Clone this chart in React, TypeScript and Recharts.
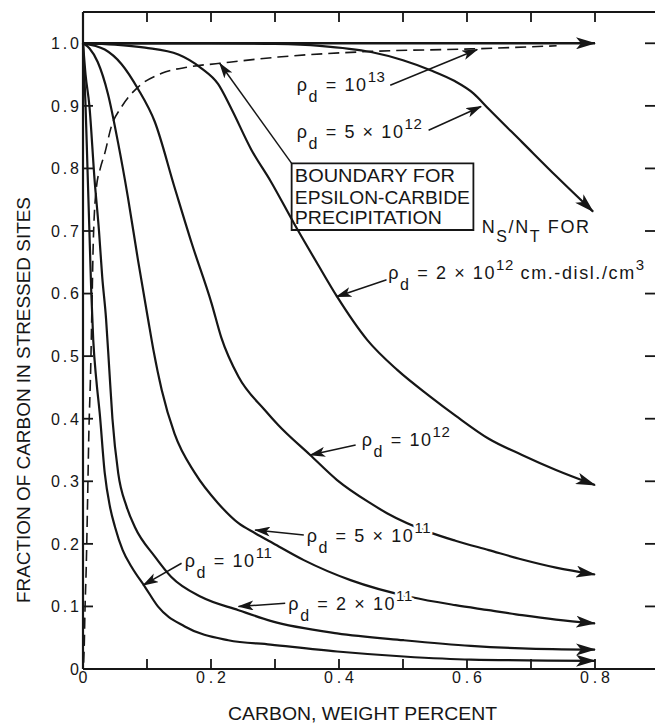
import React from 'react';
import { LineChart, Line, XAxis, YAxis, ReferenceArea, ReferenceDot } from 'recharts';

type Pt = { x: number; y: number };
type Part = { t: string; k?: 'sub' | 'sup' | 'low' };

// ---- axes ----
const xTicks = [0, 0.1, 0.2, 0.3, 0.4, 0.5, 0.6, 0.7, 0.8];
const xTickLabels = ['0', '', '0.2', '', '0.4', '', '0.6', '', '0.8'];
const yTicks = [0, 0.1, 0.2, 0.3, 0.4, 0.5, 0.6, 0.7, 0.8, 0.9, 1.0];
const yTickLabels = ['0', '0.1', '0.2', '0.3', '0.4', '0.5', '0.6', '0.7', '0.8', '0.9', '1.0'];
const xTitle = 'CARBON, WEIGHT PERCENT';
const yTitle = 'FRACTION OF CARBON IN STRESSED SITES';

// ---- curves N_S/N_T vs carbon for each dislocation density ----
const curve1e13: Pt[] = [
  { x: 0, y: 1.0 }, { x: 0.8, y: 1.0 },
];
const curve5e12: Pt[] = [
  { x: 0, y: 1.0 }, { x: 0.2, y: 1.0 }, { x: 0.3, y: 0.999 }, { x: 0.37, y: 0.996 },
  { x: 0.45, y: 0.986 }, { x: 0.5, y: 0.973 }, { x: 0.543, y: 0.957 }, { x: 0.58, y: 0.94 },
  { x: 0.61, y: 0.92 }, { x: 0.634, y: 0.895 }, { x: 0.686, y: 0.842 }, { x: 0.74, y: 0.787 },
  { x: 0.797, y: 0.731 },
];
const curve2e12: Pt[] = [
  { x: 0, y: 1.0 }, { x: 0.05, y: 0.998 }, { x: 0.097, y: 0.993 }, { x: 0.149, y: 0.982 },
  { x: 0.185, y: 0.96 }, { x: 0.211, y: 0.935 }, { x: 0.232, y: 0.895 }, { x: 0.263, y: 0.83 },
  { x: 0.293, y: 0.78 }, { x: 0.332, y: 0.708 }, { x: 0.365, y: 0.65 }, { x: 0.397, y: 0.595 },
  { x: 0.444, y: 0.526 }, { x: 0.491, y: 0.478 }, { x: 0.543, y: 0.435 }, { x: 0.582, y: 0.405 },
  { x: 0.634, y: 0.368 }, { x: 0.686, y: 0.342 }, { x: 0.739, y: 0.318 }, { x: 0.8, y: 0.294 },
];
const curve1e12: Pt[] = [
  { x: 0, y: 1.0 }, { x: 0.034, y: 0.99 }, { x: 0.06, y: 0.967 }, { x: 0.086, y: 0.927 },
  { x: 0.112, y: 0.875 }, { x: 0.143, y: 0.77 }, { x: 0.17, y: 0.68 }, { x: 0.201, y: 0.584 },
  { x: 0.216, y: 0.53 }, { x: 0.243, y: 0.467 }, { x: 0.284, y: 0.414 }, { x: 0.305, y: 0.39 },
  { x: 0.355, y: 0.342 }, { x: 0.397, y: 0.302 }, { x: 0.449, y: 0.265 }, { x: 0.475, y: 0.249 },
  { x: 0.543, y: 0.218 }, { x: 0.582, y: 0.205 }, { x: 0.634, y: 0.19 }, { x: 0.686, y: 0.175 },
  { x: 0.739, y: 0.162 }, { x: 0.8, y: 0.151 },
];
const curve5e11: Pt[] = [
  { x: 0, y: 1.0 }, { x: 0.01, y: 0.992 }, { x: 0.023, y: 0.97 }, { x: 0.039, y: 0.919 },
  { x: 0.055, y: 0.84 }, { x: 0.07, y: 0.755 }, { x: 0.086, y: 0.653 }, { x: 0.102, y: 0.557 },
  { x: 0.11, y: 0.51 }, { x: 0.123, y: 0.446 }, { x: 0.143, y: 0.376 }, { x: 0.175, y: 0.313 },
  { x: 0.211, y: 0.265 }, { x: 0.243, y: 0.233 }, { x: 0.269, y: 0.217 }, { x: 0.297, y: 0.201 },
  { x: 0.345, y: 0.174 }, { x: 0.418, y: 0.142 }, { x: 0.512, y: 0.115 }, { x: 0.582, y: 0.102 },
  { x: 0.634, y: 0.094 }, { x: 0.686, y: 0.086 }, { x: 0.739, y: 0.079 }, { x: 0.8, y: 0.073 },
];
const curve2e11: Pt[] = [
  { x: 0, y: 1.0 }, { x: 0.004, y: 0.95 }, { x: 0.01, y: 0.9 }, { x: 0.018, y: 0.783 },
  { x: 0.025, y: 0.7 }, { x: 0.03, y: 0.627 }, { x: 0.036, y: 0.56 }, { x: 0.041, y: 0.48 },
  { x: 0.046, y: 0.4 }, { x: 0.055, y: 0.313 }, { x: 0.068, y: 0.26 }, { x: 0.081, y: 0.227 },
  { x: 0.112, y: 0.18 }, { x: 0.138, y: 0.147 }, { x: 0.185, y: 0.115 }, { x: 0.243, y: 0.094 },
  { x: 0.293, y: 0.077 }, { x: 0.397, y: 0.057 }, { x: 0.501, y: 0.046 }, { x: 0.606, y: 0.037 },
  { x: 0.686, y: 0.033 }, { x: 0.8, y: 0.031 },
];
const curve1e11: Pt[] = [
  { x: 0, y: 1.0 }, { x: 0.002, y: 0.95 }, { x: 0.004, y: 0.9 }, { x: 0.007, y: 0.8 },
  { x: 0.01, y: 0.7 }, { x: 0.013, y: 0.6 }, { x: 0.016, y: 0.526 }, { x: 0.021, y: 0.46 },
  { x: 0.026, y: 0.41 }, { x: 0.034, y: 0.313 }, { x: 0.042, y: 0.26 }, { x: 0.05, y: 0.227 },
  { x: 0.062, y: 0.19 }, { x: 0.076, y: 0.163 }, { x: 0.097, y: 0.131 }, { x: 0.117, y: 0.1 },
  { x: 0.159, y: 0.068 }, { x: 0.227, y: 0.046 }, { x: 0.293, y: 0.039 }, { x: 0.397, y: 0.028 },
  { x: 0.501, y: 0.02 }, { x: 0.606, y: 0.015 }, { x: 0.8, y: 0.013 },
];
// boundary for epsilon-carbide precipitation (dashed)
const boundary: Pt[] = [
  { x: 0.001, y: 0.01 }, { x: 0.002, y: 0.04 }, { x: 0.003, y: 0.09 }, { x: 0.005, y: 0.16 },
  { x: 0.007, y: 0.26 }, { x: 0.009, y: 0.37 }, { x: 0.012, y: 0.48 }, { x: 0.014, y: 0.58 },
  { x: 0.016, y: 0.68 }, { x: 0.021, y: 0.77 }, { x: 0.027, y: 0.8 }, { x: 0.034, y: 0.824 },
  { x: 0.044, y: 0.866 }, { x: 0.06, y: 0.898 }, { x: 0.086, y: 0.93 }, { x: 0.123, y: 0.952 },
  { x: 0.164, y: 0.962 }, { x: 0.214, y: 0.968 }, { x: 0.305, y: 0.978 }, { x: 0.45, y: 0.987 },
  { x: 0.606, y: 0.991 }, { x: 0.74, y: 0.996 },
];

// ---- annotation leader arrows (start -> tip, data units) ----
const arrow1e13: Pt[] = [{ x: 0.48, y: 0.933 }, { x: 0.616, y: 0.99 }];
const arrow5e12: Pt[] = [{ x: 0.54, y: 0.861 }, { x: 0.622, y: 0.899 }];
const arrowBoundary: Pt[] = [{ x: 0.326, y: 0.808 }, { x: 0.2136, y: 0.968 }];
const arrow2e12: Pt[] = [{ x: 0.4745, y: 0.622 }, { x: 0.396, y: 0.595 }];
const arrow1e12: Pt[] = [{ x: 0.426, y: 0.358 }, { x: 0.355, y: 0.342 }];
const arrow5e11: Pt[] = [{ x: 0.345, y: 0.214 }, { x: 0.269, y: 0.222 }];
const arrow2e11: Pt[] = [{ x: 0.316, y: 0.105 }, { x: 0.243, y: 0.1 }];
const arrow1e11: Pt[] = [{ x: 0.154, y: 0.169 }, { x: 0.094, y: 0.134 }];

// ---- annotation texts ----
const RHO = '\u03C1';
const labels: { x: number; y: number; parts: Part[] }[] = [
  { x: 0.334, y: 0.923, parts: [{ t: RHO }, { t: 'd', k: 'sub' }, { t: ' = 10' }, { t: '13', k: 'sup' }] },
  { x: 0.334, y: 0.848, parts: [{ t: RHO }, { t: 'd', k: 'sub' }, { t: ' = 5 \u00D7 10' }, { t: '12', k: 'sup' }] },
  { x: 0.477, y: 0.624, parts: [{ t: RHO }, { t: 'd', k: 'sub' }, { t: ' = 2 \u00D7 10' }, { t: '12', k: 'sup' }, { t: ' cm.-disl./cm' }, { t: '3', k: 'sup' }] },
  { x: 0.623, y: 0.697, parts: [{ t: 'N' }, { t: 'S', k: 'low' }, { t: '/N' }, { t: 'T', k: 'low' }, { t: ' FOR' }] },
  { x: 0.4355, y: 0.356, parts: [{ t: RHO }, { t: 'd', k: 'sub' }, { t: ' = 10' }, { t: '12', k: 'sup' }] },
  { x: 0.3495, y: 0.2035, parts: [{ t: RHO }, { t: 'd', k: 'sub' }, { t: ' = 5 \u00D7 10' }, { t: '11', k: 'sup' }] },
  { x: 0.3208, y: 0.0943, parts: [{ t: RHO }, { t: 'd', k: 'sub' }, { t: ' = 2 \u00D7 10' }, { t: '11', k: 'sup' }] },
  { x: 0.159, y: 0.163, parts: [{ t: RHO }, { t: 'd', k: 'sub' }, { t: ' = 10' }, { t: '11', k: 'sup' }] },
];
const boxArea = { x1: 0.326, x2: 0.61, y1: 0.7016, y2: 0.808 };
const boxLines = [
  { text: 'BOUNDARY FOR', x: 0.331, y: 0.778, len: 160 },
  { text: 'EPSILON-CARBIDE', x: 0.331, y: 0.743, len: 175 },
  { text: 'PRECIPITATION', x: 0.331, y: 0.711, len: 147 },
];

const FONT = '"Liberation Sans", Arial, sans-serif';
const INK = '#161616';

const RichText = ({ x, y, parts }: { x: number; y: number; parts: Part[] }) => {
  let cur = 0;
  return (
    <text
      x={x}
      y={y}
      fontFamily={FONT}
      fontSize={18}
      fill={INK}
      letterSpacing={1.6}
      stroke="#fff"
      strokeWidth={5}
      strokeLinejoin="round"
      paintOrder="stroke"
      style={{ whiteSpace: 'pre' }}
    >
      {parts.map((p, i) => {
        const target = p.k === 'sub' ? 11 : p.k === 'sup' ? -9 : p.k === 'low' ? 9 : 0;
        const dy = target - cur;
        cur = target;
        const fs = p.k === 'sup' ? 15 : p.k ? 16 : 18;
        return (
          <tspan key={i} dy={dy} fontSize={fs} letterSpacing={p.k === 'sup' ? 0.6 : 1.6}>
            {p.t}
          </tspan>
        );
      })}
    </text>
  );
};

const XTick = (props: any) => {
  const { x, y, index } = props;
  const label = xTickLabels[index];
  if (!label) return <g />;
  return (
    <text
      x={x}
      y={y + 14}
      textAnchor="middle"
      fontFamily={FONT}
      fontSize={16}
      fill={INK}
      textLength={label.length > 1 ? 30 : undefined}
      lengthAdjust="spacing"
    >
      {label}
    </text>
  );
};

const YTick = (props: any) => {
  const { x, y, index } = props;
  const label = yTickLabels[index];
  return (
    <text
      x={x - 4}
      y={y + 5.8}
      textAnchor="end"
      fontFamily={FONT}
      fontSize={16}
      fill={INK}
      textLength={label.length > 1 ? 28 : undefined}
      lengthAdjust="spacing"
    >
      {label}
    </text>
  );
};

const NoTick = () => <g />;

const XTitle = (props: any) => {
  const vb = props.viewBox;
  return (
    <text
      x={vb.x + 279.5}
      y={vb.y + 51}
      textAnchor="middle"
      fontFamily={FONT}
      fontSize={18.5}
      fill={INK}
      textLength={269}
      lengthAdjust="spacingAndGlyphs"
    >
      {xTitle}
    </text>
  );
};

const YTitle = (props: any) => {
  const vb = props.viewBox;
  const cx = vb.x + 23;
  const cy = vb.y + 388;
  return (
    <text
      x={cx}
      y={cy}
      transform={`rotate(-90 ${cx} ${cy})`}
      textAnchor="middle"
      dominantBaseline="central"
      fontFamily={FONT}
      fontSize={18.5}
      fill={INK}
      textLength={406}
      lengthAdjust="spacingAndGlyphs"
    >
      {yTitle}
    </text>
  );
};

const curveStyle = {
  type: 'monotone' as const,
  dataKey: 'y',
  stroke: INK,
  strokeWidth: 2.2,
  dot: false,
  activeDot: false,
  isAnimationActive: false,
};
const leaderStyle = {
  type: 'linear' as const,
  dataKey: 'y',
  stroke: INK,
  strokeWidth: 1.5,
  dot: false,
  activeDot: false,
  isAnimationActive: false,
};

export default function App() {
  return (
    <div
      style={{
        position: 'fixed',
        left: 0,
        top: 0,
        width: 655,
        height: 724,
        overflow: 'hidden',
        background: '#fff',
      }}
    >
      <svg width={0} height={0} style={{ position: 'absolute' }}>
        <defs>
          <marker
            id="arrowBig"
            viewBox="0 0 20 12"
            refX={19}
            refY={6}
            markerWidth={20}
            markerHeight={12}
            markerUnits="userSpaceOnUse"
            orient="auto"
          >
            <path d="M0,0 L20,6 L0,12 L5,6 Z" fill={INK} />
          </marker>
          <marker
            id="arrowSmall"
            viewBox="0 0 16 10"
            refX={15}
            refY={5}
            markerWidth={16}
            markerHeight={10}
            markerUnits="userSpaceOnUse"
            orient="auto"
          >
            <path d="M0,0 L16,5 L0,10 L4,5 Z" fill={INK} />
          </marker>
        </defs>
      </svg>
      <LineChart width={661} height={724} margin={{ top: 11, right: 0, bottom: 0, left: 0 }}>
        <XAxis
          xAxisId={0}
          type="number"
          dataKey="x"
          domain={[0, 0.9]}
          ticks={xTicks}
          interval={0}
          height={55}
          tickSize={-10}
          tickMargin={10}
          tick={<XTick />}
          axisLine={{ stroke: INK, strokeWidth: 2.2 }}
          tickLine={{ stroke: INK, strokeWidth: 1.8 }}
          label={(p: any) => <XTitle {...p} />}
        />
        <XAxis
          xAxisId="top"
          orientation="top"
          type="number"
          dataKey="x"
          domain={[0, 0.9]}
          ticks={xTicks}
          interval={0}
          height={1}
          tickSize={-10}
          tickMargin={0}
          tick={<NoTick />}
          axisLine={{ stroke: INK, strokeWidth: 2.2 }}
          tickLine={{ stroke: INK, strokeWidth: 1.8 }}
        />
        <YAxis
          yAxisId={0}
          type="number"
          domain={[0, 1.05]}
          ticks={yTicks}
          interval={0}
          width={83}
          tickSize={-10}
          tickMargin={10}
          tick={<YTick />}
          axisLine={{ stroke: INK, strokeWidth: 2.2 }}
          tickLine={{ stroke: INK, strokeWidth: 1.8 }}
          label={(p: any) => <YTitle {...p} />}
        />
        <YAxis
          yAxisId="right"
          orientation="right"
          type="number"
          domain={[0, 1.05]}
          ticks={yTicks}
          interval={0}
          width={2}
          tickSize={-14}
          tickMargin={0}
          tick={<NoTick />}
          axisLine={{ stroke: INK, strokeWidth: 2.2 }}
          tickLine={{ stroke: INK, strokeWidth: 1.8 }}
        />

        <ReferenceArea
          x1={boxArea.x1}
          x2={boxArea.x2}
          y1={boxArea.y1}
          y2={boxArea.y2}
          fill="#fff"
          fillOpacity={1}
          stroke={INK}
          strokeWidth={1.8}
        />

        {/* invisible series that binds the frame axes (top / right) */}
        <Line {...curveStyle} xAxisId="top" yAxisId="right" data={curve1e13} stroke="none" strokeWidth={0} />

        <Line {...curveStyle} data={boundary} strokeWidth={1.6} strokeDasharray="11 6" />
        <Line {...curveStyle} data={curve1e13} strokeWidth={2.6} markerEnd="url(#arrowBig)" />
        <Line {...curveStyle} data={curve5e12} markerEnd="url(#arrowBig)" />
        <Line {...curveStyle} data={curve2e12} markerEnd="url(#arrowBig)" />
        <Line {...curveStyle} data={curve1e12} markerEnd="url(#arrowBig)" />
        <Line {...curveStyle} data={curve5e11} markerEnd="url(#arrowBig)" />
        <Line {...curveStyle} data={curve2e11} markerEnd="url(#arrowBig)" />
        <Line {...curveStyle} data={curve1e11} markerEnd="url(#arrowBig)" />

        <Line {...leaderStyle} data={arrow1e13} markerEnd="url(#arrowSmall)" />
        <Line {...leaderStyle} data={arrow5e12} markerEnd="url(#arrowSmall)" />
        <Line {...leaderStyle} data={arrowBoundary} markerEnd="url(#arrowSmall)" />
        <Line {...leaderStyle} data={arrow2e12} markerEnd="url(#arrowSmall)" />
        <Line {...leaderStyle} data={arrow1e12} markerEnd="url(#arrowSmall)" />
        <Line {...leaderStyle} data={arrow5e11} markerEnd="url(#arrowSmall)" />
        <Line {...leaderStyle} data={arrow2e11} markerEnd="url(#arrowSmall)" />
        <Line {...leaderStyle} data={arrow1e11} markerEnd="url(#arrowSmall)" />

        {labels.map((l, i) => (
          <ReferenceDot
            key={`lab-${i}`}
            x={l.x}
            y={l.y}
            r={0}
            fill="none"
            stroke="none"
            shape={(p: any) => <RichText x={p.cx} y={p.cy} parts={l.parts} />}
          />
        ))}
        {boxLines.map((b, i) => (
          <ReferenceDot
            key={`box-${i}`}
            x={b.x}
            y={b.y}
            r={0}
            fill="none"
            stroke="none"
            shape={(p: any) => (
              <text
                x={p.cx}
                y={p.cy}
                fontFamily={FONT}
                fontSize={18}
                fill={INK}
                textLength={b.len}
                lengthAdjust="spacingAndGlyphs"
              >
                {b.text}
              </text>
            )}
          />
        ))}
      </LineChart>
    </div>
  );
}
